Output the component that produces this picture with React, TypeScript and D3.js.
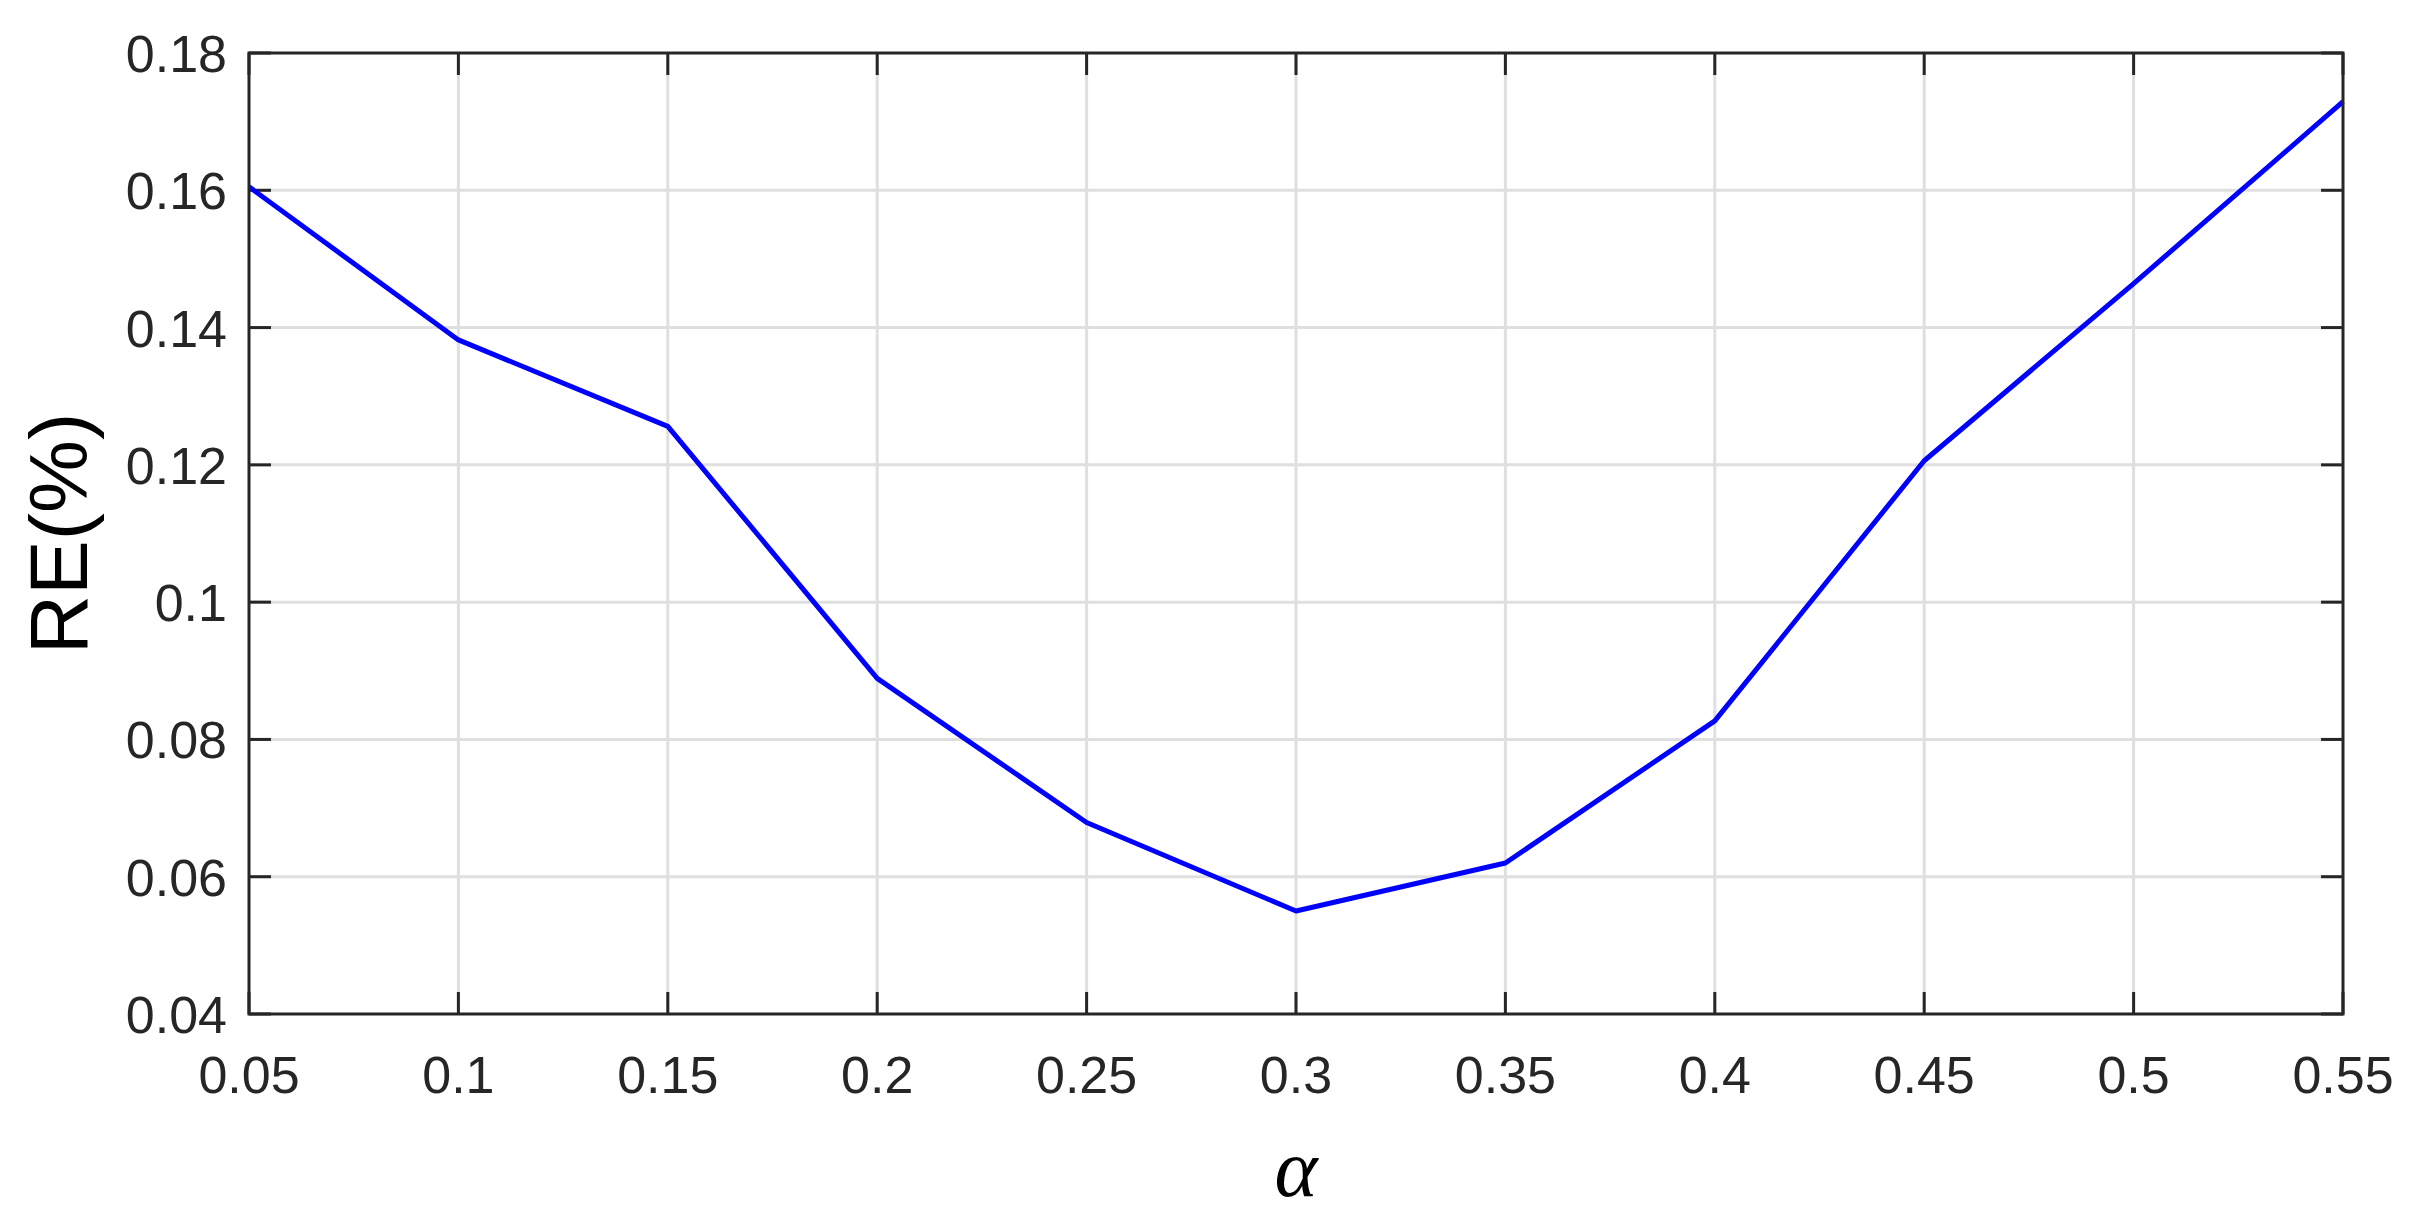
import React from "react";
import * as d3 from "d3";

const alphaValues = [0.05, 0.1, 0.15, 0.2, 0.25, 0.3, 0.35, 0.4, 0.45, 0.5, 0.55];
const reValues = [0.1605, 0.1382, 0.1256, 0.0889, 0.0679, 0.055, 0.062, 0.0827, 0.1206, 0.1464, 0.1729];
const xTicks = [0.05, 0.1, 0.15, 0.2, 0.25, 0.3, 0.35, 0.4, 0.45, 0.5, 0.55];
const xTickLabels = ["0.05", "0.1", "0.15", "0.2", "0.25", "0.3", "0.35", "0.4", "0.45", "0.5", "0.55"];
const yTicks = [0.04, 0.06, 0.08, 0.1, 0.12, 0.14, 0.16, 0.18];
const yTickLabels = ["0.04", "0.06", "0.08", "0.1", "0.12", "0.14", "0.16", "0.18"];

const W = 2410;
const H = 1223;
const L = 249;
const R = 2343;
const T = 53;
const B = 1014;

export default function App() {
  const x = d3.scaleLinear().domain([0.05, 0.55]).range([L, R]);
  const y = d3.scaleLinear().domain([0.04, 0.18]).range([B, T]);
  const line = d3
    .line<number>()
    .x((_, i) => x(alphaValues[i]))
    .y((d) => y(d));
  const axisColor = "#262626";
  const gridColor = "#dfdfdf";
  const tickLen = 22;
  const font = "'Liberation Sans', Arial, Helvetica, sans-serif";
  return (
    <div>
      <style>{`body{margin:0}`}</style>
      <svg width={W} height={H} style={{ display: "block", background: "#fff" }}>
        {/* grid */}
        {xTicks.slice(1, -1).map((t) => (
          <line key={"gx" + t} x1={x(t)} x2={x(t)} y1={T} y2={B} stroke={gridColor} strokeWidth={3} />
        ))}
        {yTicks.slice(1, -1).map((t) => (
          <line key={"gy" + t} x1={L} x2={R} y1={y(t)} y2={y(t)} stroke={gridColor} strokeWidth={3} />
        ))}
        {/* ticks */}
        {xTicks.map((t) => (
          <g key={"tx" + t}>
            <line x1={x(t)} x2={x(t)} y1={B} y2={B - tickLen} stroke={axisColor} strokeWidth={3} />
            <line x1={x(t)} x2={x(t)} y1={T} y2={T + tickLen} stroke={axisColor} strokeWidth={3} />
          </g>
        ))}
        {yTicks.map((t) => (
          <g key={"ty" + t}>
            <line x1={L} x2={L + tickLen} y1={y(t)} y2={y(t)} stroke={axisColor} strokeWidth={3} />
            <line x1={R} x2={R - tickLen} y1={y(t)} y2={y(t)} stroke={axisColor} strokeWidth={3} />
          </g>
        ))}
        {/* data line */}
        <path d={line(reValues) || ""} fill="none" stroke="#0000ff" strokeWidth={5} strokeLinejoin="round" />
        {/* box */}
        <rect x={L} y={T} width={R - L} height={B - T} fill="none" stroke={axisColor} strokeWidth={3} />
        {/* tick labels */}
        {xTicks.map((t, i) => (
          <text key={"lx" + t} x={x(t)} y={1093} textAnchor="middle" fontFamily={font} fontSize={52} fill={axisColor}>
            {xTickLabels[i]}
          </text>
        ))}
        {yTicks.map((t, i) => (
          <text key={"ly" + t} x={227} y={y(t) + 19} textAnchor="end" fontFamily={font} fontSize={52} fill={axisColor}>
            {yTickLabels[i]}
          </text>
        ))}
        {/* axis labels */}
        <text
          transform={`translate(87, ${(T + B) / 2}) rotate(-90)`}
          textAnchor="middle"
          fontFamily={font}
          fontSize={82}
          fill="#000"
        >
          RE(%)
        </text>
        <text
          x={(L + R) / 2}
          y={1196}
          textAnchor="middle"
          fontFamily="'Liberation Serif', 'Times New Roman', serif"
          fontStyle="italic"
          fontSize={82}
          fill="#000"
        >
          α
        </text>
      </svg>
    </div>
  );
}
